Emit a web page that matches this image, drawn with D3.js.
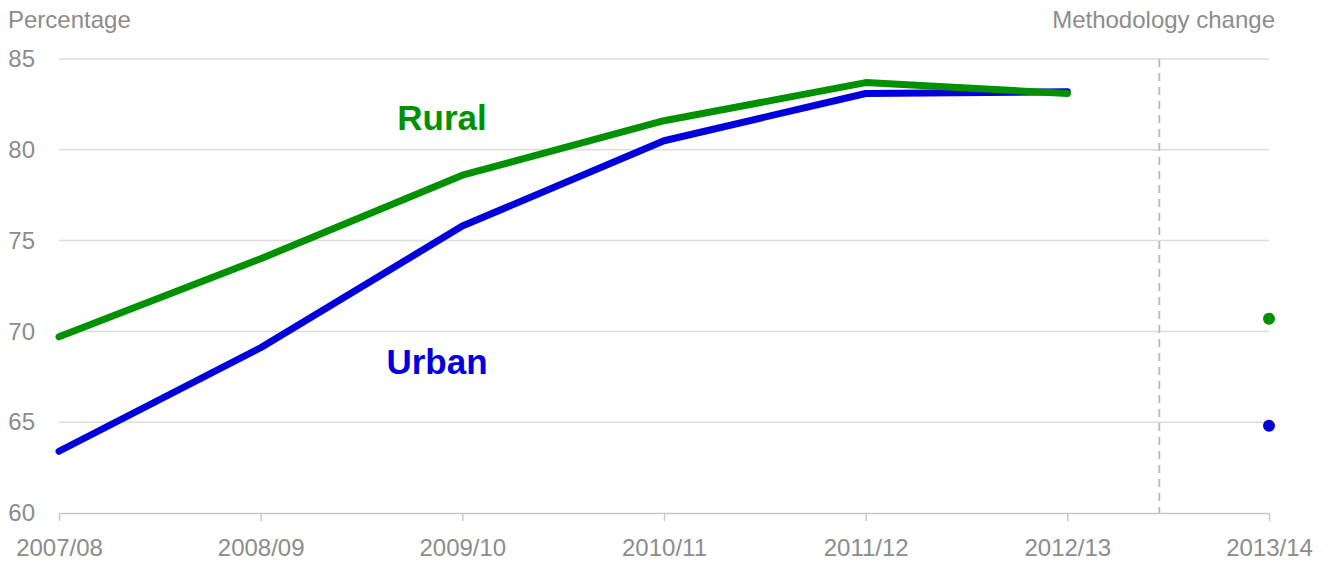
<!DOCTYPE html>
<html>
<head>
<meta charset="utf-8">
<script src="https://cdn.jsdelivr.net/npm/d3@7"></script>
<style>
  html, body { margin: 0; padding: 0; background: #fff; }
  svg { display: block; font-family: "Liberation Sans", Arial, sans-serif; }
</style>
</head>
<body>
<svg id="chart" width="1329" height="561"></svg>
<script>
// Survey years on the x axis
const years = ["2007/08", "2008/09", "2009/10", "2010/11", "2011/12", "2012/13", "2013/14"];
// Continuous series (old methodology), 2007/08 to 2012/13
const rural = [69.7, 74.0, 78.6, 81.6, 83.7, 83.1];
const urban = [63.4, 69.1, 75.8, 80.5, 83.1, 83.2];
// Single points after the methodology change (2013/14)
const ruralNew = [70.7];
const urbanNew = [64.8];
// Y axis ticks
const yTicks = [60, 65, 70, 75, 80, 85];

const GREEN = "#009100";
const BLUE = "#0000dd";
const TEXT = "#8c8c8c";

const svg = d3.select("#chart");
const margin = { left: 59, right: 60, top: 59, bottom: 48 };
const W = 1329, H = 561;

const x = d3.scalePoint().domain(years).range([margin.left, W - margin.right]);
const y = d3.scaleLinear().domain([60, 85]).range([H - margin.bottom, margin.top]);

// Horizontal gridlines
svg.append("g")
  .selectAll("line")
  .data(yTicks.filter(t => t !== 60))
  .join("line")
  .attr("x1", x.range()[0]).attr("x2", x.range()[1])
  .attr("y1", d => y(d)).attr("y2", d => y(d))
  .attr("stroke", "#dcdcdc").attr("stroke-width", 1.5);

// Y axis labels
const yAxis = svg.append("g")
  .attr("transform", `translate(${margin.left},0)`)
  .call(d3.axisLeft(y).tickValues(yTicks).tickSize(0).tickPadding(24));
yAxis.select(".domain").remove();
yAxis.selectAll("text")
  .attr("fill", TEXT).attr("font-size", 24)
  .attr("font-family", "Liberation Sans, Arial, sans-serif");

// X axis with small ticks below the baseline
const xAxis = svg.append("g")
  .attr("transform", `translate(0,${y(60)})`)
  .call(d3.axisBottom(x).tickSize(8).tickSizeOuter(0).tickPadding(18));
xAxis.select(".domain").attr("stroke", "#c8c8c8").attr("stroke-width", 1.5);
xAxis.selectAll(".tick line").attr("stroke", "#c8c8c8").attr("stroke-width", 1.5);
xAxis.selectAll("text")
  .attr("fill", TEXT).attr("font-size", 24)
  .attr("font-family", "Liberation Sans, Arial, sans-serif");

// Methodology change divider between 2012/13 and 2013/14
const divX = x(years[5]) + x.step() * 0.456;
svg.append("line")
  .attr("x1", divX).attr("x2", divX)
  .attr("y1", y(85)).attr("y2", y(60))
  .attr("stroke", "#bdbdbd").attr("stroke-width", 2)
  .attr("stroke-dasharray", "8,6");

// Titles
svg.append("text")
  .attr("x", 8).attr("y", 28)
  .attr("fill", TEXT).attr("font-size", 24)
  .text("Percentage");
svg.append("text")
  .attr("x", 1275).attr("y", 28)
  .attr("text-anchor", "end")
  .attr("fill", TEXT).attr("font-size", 24)
  .text("Methodology change");

// Lines
const line = d3.line()
  .x((d, i) => x(years[i]))
  .y(d => y(d));

svg.append("path")
  .datum(urban)
  .attr("d", line)
  .attr("fill", "none").attr("stroke", BLUE)
  .attr("stroke-width", 7).attr("stroke-linejoin", "round").attr("stroke-linecap", "round");

svg.append("path")
  .datum(rural)
  .attr("d", line)
  .attr("fill", "none").attr("stroke", GREEN)
  .attr("stroke-width", 7).attr("stroke-linejoin", "round").attr("stroke-linecap", "round");

// 2013/14 points
svg.append("circle")
  .attr("cx", x(years[6])).attr("cy", y(ruralNew[0]))
  .attr("r", 6).attr("fill", GREEN);
svg.append("circle")
  .attr("cx", x(years[6])).attr("cy", y(urbanNew[0]))
  .attr("r", 6).attr("fill", BLUE);

// Series labels
svg.append("text")
  .attr("x", 442).attr("y", 130)
  .attr("text-anchor", "middle")
  .attr("font-weight", "bold").attr("font-size", 35)
  .attr("fill", GREEN)
  .text("Rural");
svg.append("text")
  .attr("x", 437).attr("y", 374)
  .attr("text-anchor", "middle")
  .attr("font-weight", "bold").attr("font-size", 35)
  .attr("fill", BLUE)
  .text("Urban");
</script>
</body>
</html>
